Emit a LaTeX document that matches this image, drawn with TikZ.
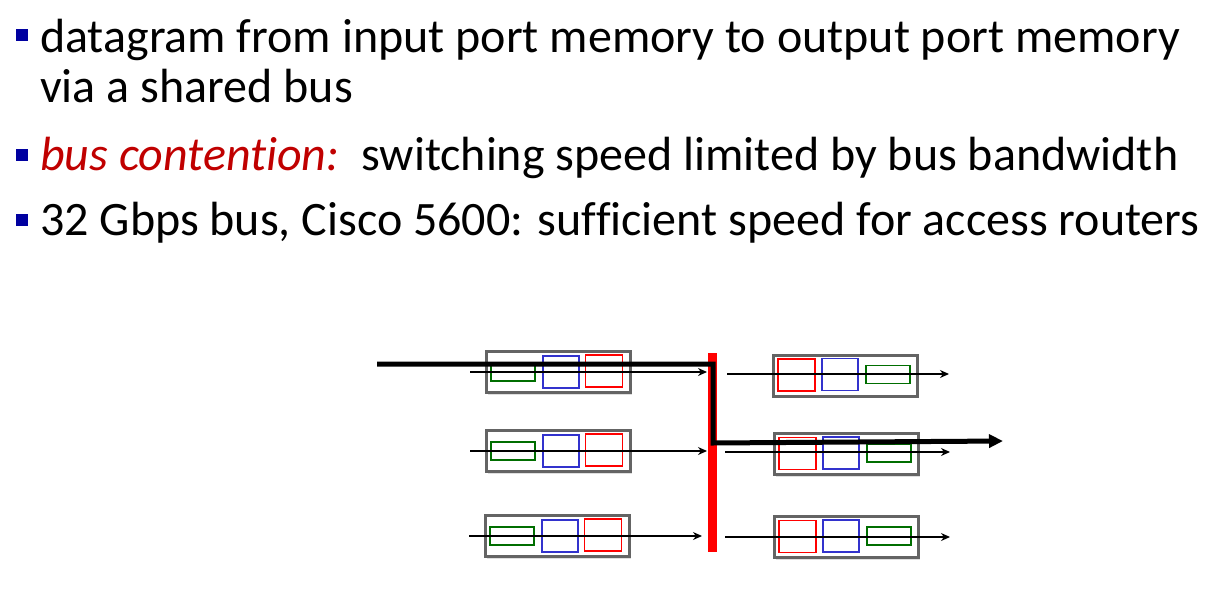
\documentclass[tikz,border=0pt]{standalone}
\usepackage{fontspec}
\setmainfont{Carlito}[Ligatures=NoCommon]
\usetikzlibrary{arrows.meta,shadows}
\definecolor{bulblue}{RGB}{0,0,160}
\definecolor{txtred}{RGB}{192,0,0}
\definecolor{boxgray}{RGB}{100,100,100}
\definecolor{qgreen}{RGB}{0,110,0}
\definecolor{qblue}{RGB}{50,50,205}
\definecolor{qred}{RGB}{255,0,0}
\begin{document}
\begin{tikzpicture}[x=1pt,y=-1pt,
  txt/.style={anchor=base west,inner sep=0pt,font=\fontsize{48}{58}\selectfont},
  bullet/.style={fill=bulblue,minimum size=12pt,inner sep=0pt,draw=none},
  pbox/.style={draw=boxgray,line width=3pt,fill=white,minimum width=144pt,minimum height=41pt,inner sep=0pt,outer sep=0pt,
    drop shadow={shadow xshift=2pt,shadow yshift=-2pt,opacity=0.25,fill=gray}},
  gq/.style={draw=qgreen,line width=1.6pt,minimum width=44pt,minimum height=18pt,inner sep=0pt},
  bq/.style={draw=qblue,line width=1.6pt,minimum width=36pt,minimum height=32pt,inner sep=0pt},
  rq/.style={draw=qred,line width=1.6pt,minimum width=37pt,minimum height=32pt,inner sep=0pt},
  thin/.style={line width=1.4pt,-{Stealth[length=9pt,width=8pt]}},
  thick/.style={line width=5pt,-{Triangle[length=14pt,width=13pt]}}
]
\useasboundingbox (0,0) rectangle (1232,605);
% text
\node[bullet] (b1) at (22,35) {};
\node[txt] (t1) at (40,52) {datagram from input port memory to output port memory};
\node[txt] (t2) at (40,102) {via a shared bus};
\node[bullet] (b2) at (22,155) {};
\node[txt] (t3) at (40,170) {\textcolor{txtred}{\itshape bus contention:}\ \ switching speed limited by bus bandwidth};
\node[bullet] (b3) at (22,220) {};
\node[txt] (t4) at (40,235) {32 Gbps bus, Cisco 5600: sufficient speed for access routers};
% input ports
\foreach \n/\x/\y in {1/558/372, 2/558/451, 3/557/536}{
  \node[pbox] (in\n) at (\x,\y) {};
  \node[gq] (ing\n) at (\x-45,\y) {};
  \node[bq] (inb\n) at (\x+3,\y) {};
  \node[rq] (inr\n) at (\x+46,\y-1) {};
}
% output ports
\foreach \n/\x/\y in {1/845/375.5, 2/846/454, 3/846/537}{
  \node[pbox] (out\n) at (\x,\y) {};
  \node[rq] (outr\n) at (\x-48.5,\y-0.5) {};
  \node[bq] (outb\n) at (\x-5,\y-1) {};
  \node[gq] (outg\n) at (\x+43,\y-1) {};
}
% bus
\node[fill=qred,minimum width=9pt,minimum height=199pt,inner sep=0pt] (bus) at (712.5,452.5) {};
% thin arrows
\coordinate (ia1) at (470,372); \coordinate (ib1) at (707,372);
\coordinate (ia2) at (470,451); \coordinate (ib2) at (707,451);
\coordinate (ia3) at (469,536); \coordinate (ib3) at (702,536);
\coordinate (oa1) at (727,374); \coordinate (ob1) at (949,374);
\coordinate (oa2) at (725,452); \coordinate (ob2) at (950,452);
\coordinate (oa3) at (725,537); \coordinate (ob3) at (950,537);
\foreach \n in {1,2,3}{
  \draw[thin] (ia\n) -- (ib\n);
  \draw[thin] (oa\n) -- (ob\n);
}
% datagram path
\coordinate (ps) at (377,364);
\coordinate (pc1) at (713,364);
\coordinate (pc2) at (713,443);
\coordinate (pe) at (1003,441);
\draw[thick,line join=miter] (ps) -- (pc1) -- (pc2) -- (pe);
\end{tikzpicture}
\end{document}
